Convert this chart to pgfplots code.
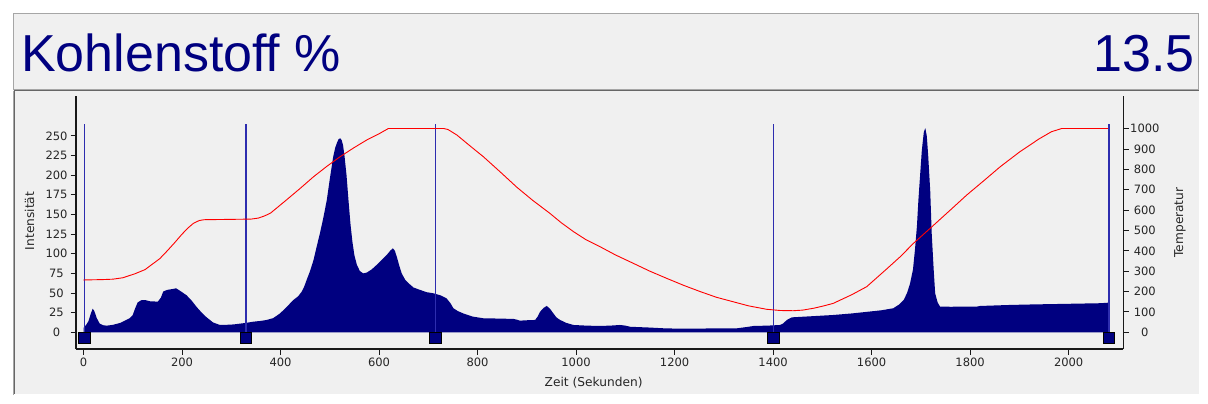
\documentclass[border=0pt]{standalone}
\usepackage{pgfplots}
\pgfplotsset{compat=1.18}
\usepackage{fontspec}
\setmainfont{DejaVu Sans}
\newfontfamily\titlefont{Liberation Sans}
\definecolor{navyfill}{RGB}{0,0,128}
\definecolor{vlinec}{RGB}{45,45,175}
\definecolor{panel}{RGB}{240,240,240}
\definecolor{tempred}{RGB}{255,0,0}
\newcommand{\tickfont}{\fontsize{11.5bp}{13bp}\selectfont}
\newcommand{\labfont}{\fontsize{12.2bp}{14bp}\selectfont}

\begin{document}
\begin{tikzpicture}[x=1bp,y=1bp]
\fill[white] (0,0) rectangle (1208,403);
\path[use as bounding box] (0,0) rectangle (1208,403);
\fill[panel] (13,8) rectangle (1199,390);
% title box
\draw[black!35, line width=1bp] (13.5,314) rectangle (1198,389.5);
% lower panel sunken border
\draw[black!35, line width=1bp] (13.5,8) -- (13.5,312.5);
\draw[black!60, line width=1bp] (14.5,8.5) -- (14.5,312.5) -- (1198.5,312.5);
\draw[white, line width=1bp] (14,8.5) -- (1199,8.5) -- (1199,313);
\node[anchor=base west, inner sep=0pt, text=navyfill, font=\titlefont\fontsize{52bp}{60bp}\selectfont] at (21,331.3) {Kohlenstoff \%};
\node[anchor=base east, inner sep=0pt, text=navyfill, font=\titlefont\fontsize{52bp}{60bp}\selectfont] at (1195,331.3) {13.5};

\begin{axis}[
  at={(76bp,54bp)}, anchor=south west, scale only axis,
  width=1047.3bp, height=253bp,
  xmin=-15.2, xmax=2111, ymin=-21.3, ymax=300.9,
  axis x line*=bottom, axis y line*=left,
  axis line style={-, black!90, line width=1.5bp},
  tick align=outside, major tick length=5.5bp,
  tick style={black!90, line width=1bp},
  xtick={0,200,...,2000}, ytick={0,25,...,250},
  scaled ticks=false,
  /pgf/number format/1000 sep={},
  /pgf/number format/assume math mode=true,
  tick label style={font=\tickfont, text=black!85},
  yticklabel style={anchor=center, xshift=-14bp},
  xticklabel style={anchor=center, yshift=-8bp},
  xlabel={Zeit (Sekunden)}, ylabel={Intensität},
  label style={font=\labfont, text=black!85},
  xlabel style={at={(axis description cs:0.4942,-0.1344)}, anchor=center},
  ylabel style={at={(axis description cs:-0.0444,0.506)}, anchor=center},
]
\addplot[fill=navyfill, draw=none] coordinates {
(0,0) (0.5,6) (5,9) (10,14) (15,24) (18.7,30) (22,27) (27,18) (33,11) (40,9) (47,8.4)
(60,9.5) (75,12) (94,18) (100,22) (104.6,30) (110,38) (118,41) (125,41) (135,39.5)
(151,39) (157,44) (162,52) (170,54) (180,55) (188,56) (198,52) (209.5,47) (220,40)
(230,32) (240,25) (250,19) (263,12.5) (277,9.3) (290,9.5) (305,10) (318,11) (330,12)
(345,13.5) (360,14.5) (372,15.7) (385,18) (399,24) (412,32) (426,41) (436,46) (443,51.7)
(448,58) (453,66.6) (460,78) (467,92) (473,108) (480,126) (487,146) (494,168.5)
(500,195) (507,223.7) (511,235) (515,242) (518,246) (521,247) (524,245) (527,238)
(530,224) (534,200) (538,168) (542,138) (546,115) (550,98) (555,86) (561,78) (568,75)
(575,76) (585,80) (595,85.7) (605,92) (615.6,98.5) (623,104) (628,107) (632,104)
(636,96.3) (641,85) (646,75) (653,67) (660,62.4) (670,57) (683,54) (697,51) (710,49.7)
(725,47) (737,43.3) (745,37) (751,30.6) (760,27) (771,24) (790,20) (812,17.8) (840,17.5)
(873,17) (880,16) (886,14.8) (900,15.3) (917,15.7) (922,20) (927,26.2) (934,31)
(940.5,33.5) (947,30) (954,24) (960,19) (967.5,15.7) (980,12) (994.5,9.3) (1020,8.5)
(1048,8) (1070,8.5) (1089,9.3) (1100,8.5) (1110,7) (1150,6) (1180,5) (1211,4.6)
(1260,4.8) (1326,5) (1350,7) (1360,8) (1390,8.5) (1414,9.3) (1420,11) (1428,15.7)
(1438,19) (1480,20.5) (1522,22) (1560,24) (1590,26) (1620,28) (1644,30.6) (1655,35)
(1665,41) (1672,50) (1678,62) (1684,80) (1688,105) (1692,135) (1695,168.5) (1699,205)
(1702,232) (1706,255) (1709,260) (1712,250) (1715,223.7) (1719,180) (1722,126) (1726,80)
(1729,49.7) (1734,38) (1739,32.6) (1760,32.5) (1813,32.6) (1820,33.5) (1881,34.8)
(1930,35.5) (1976,36) (2020,36.5) (2064,37) (2081,37.7) (2083,0)
} \closedcycle;
\addplot[vlinec, line width=1.1bp] coordinates {(2,0) (2,265.4)};
\addplot[vlinec, line width=1.1bp] coordinates {(330,0) (330,265.4)};
\addplot[vlinec, line width=1.1bp] coordinates {(715,0) (715,265.4)};
\addplot[vlinec, line width=1.1bp] coordinates {(1401,0) (1401,265.4)};
\addplot[vlinec, line width=1.1bp] coordinates {(2082,0) (2082,265.4)};
\addplot[only marks, mark=square*, mark size=5.7bp,
  mark options={fill=navyfill, draw=black, line width=1bp}]
  coordinates {(2,-7.3) (330,-7.3) (715,-7.3) (1401,-7.3) (2082,-7.3)};
\end{axis}

\begin{axis}[
  at={(76bp,54bp)}, anchor=south west, scale only axis,
  width=1047.3bp, height=253bp,
  xmin=-15.2, xmax=2111, ymin=-82, ymax=1160.6,
  hide x axis, axis y line*=right,
  axis line style={-, black!90, line width=1.5bp},
  tick align=outside, major tick length=5.5bp,
  tick style={black!90, line width=1bp},
  ytick={0,100,...,1000},
  scaled ticks=false,
  /pgf/number format/1000 sep={},
  /pgf/number format/assume math mode=true,
  tick label style={font=\tickfont, text=black!85},
  yticklabel style={anchor=center, xshift=16bp},
  ylabel={Temperatur},
  label style={font=\labfont, text=black!85},
  ylabel style={at={(axis description cs:1.0541,0.5)}, anchor=center},
]
\addplot[tempred, line width=0.9bp] coordinates {
(0,257) (40,259) (60,261) (80,268) (105,288) (125,308) (140,335) (155,362) (170,400)
(185,440) (200,482) (212,512) (223,535) (235,549) (245,553) (340,556) (355,561)
(368,572) (380,586) (412,650) (440,707) (467,764) (494,815) (521,862.5) (548,905)
(575,944.5) (600,975) (619,1001) (731,1001) (740,996) (758,969) (785,915) (812,862)
(845,790) (880,712) (912,648) (947,584) (970,538) (995,494) (1020,455) (1049,420)
(1080,380) (1116,339) (1150,300) (1184,265) (1218,231) (1252,200) (1285,172)
(1319,150) (1350,130) (1387,113) (1415,107) (1441,106) (1460,109) (1482,118)
(1500,128) (1522,142) (1560,185) (1590,224) (1631,312) (1658,371) (1685,437)
(1719,511) (1760,601) (1793,674) (1828,745) (1861,813) (1900,885) (1940,950)
(1965,985) (1986,1001) (2080,1001)
};
\end{axis}
\end{tikzpicture}
\end{document}
